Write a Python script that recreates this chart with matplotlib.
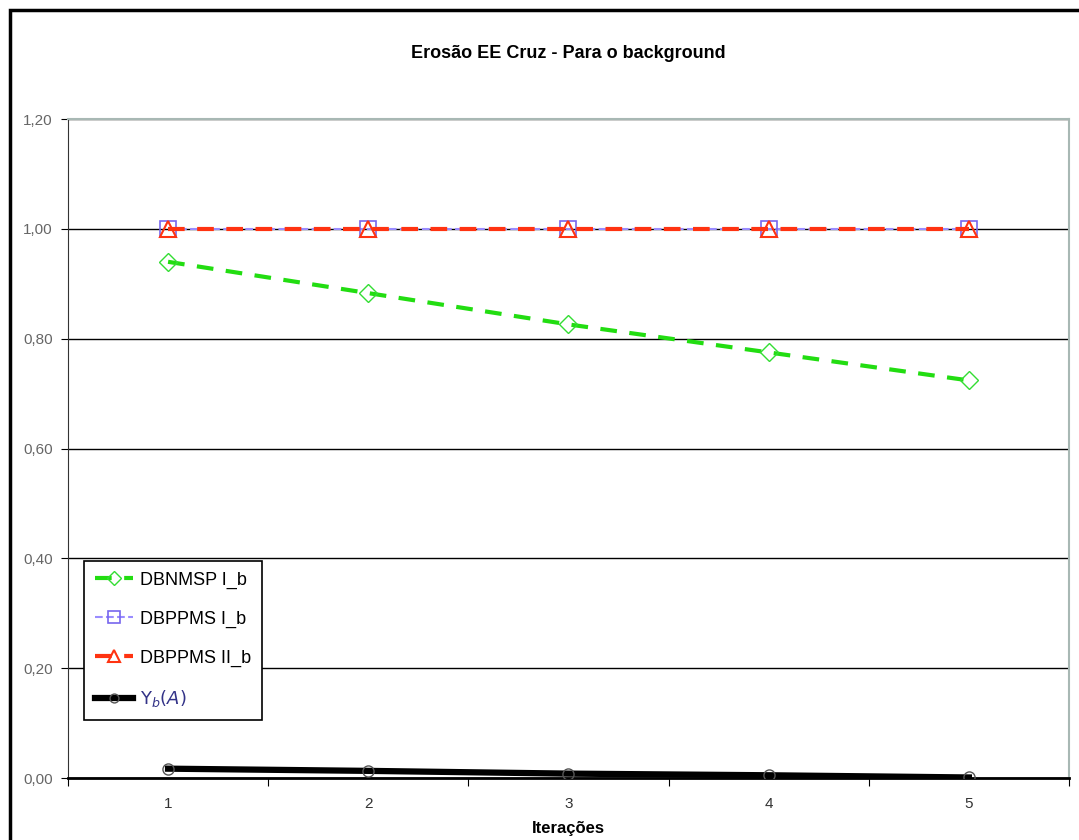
import matplotlib
matplotlib.use('Agg')
import matplotlib.pyplot as plt
from matplotlib.patches import Rectangle

iteracoes = [1, 2, 3, 4, 5]
x_ticks = [0.5, 1.5, 2.5, 3.5, 4.5, 5.5]
y_ticks = [0.0, 0.2, 0.4, 0.6, 0.8, 1.0, 1.2]
y_labels = ['0,00', '0,20', '0,40', '0,60', '0,80', '1,00', '1,20']

dbnmsp_i = [0.940, 0.883, 0.826, 0.775, 0.724]
dbppms_i = [1.0, 1.0, 1.0, 1.0, 1.0]
dbppms_ii = [1.0, 1.0, 1.0, 1.0, 1.0]
upsilon = [0.017, 0.013, 0.008, 0.005, 0.001]

narrow = ['Liberation Sans Narrow', 'Liberation Sans', 'DejaVu Sans']


def main():
    fig = plt.figure(figsize=(10.79, 8.4), dpi=100)
    ax = fig.add_axes([0.063, 0.0738, 0.9277, 0.7845])

    # outer chart frame (only left and top show in the picture)
    fig.add_artist(Rectangle((10 / 1079, -0.1), 1.2, 1 - 10 / 840 + 0.1,
                             transform=fig.transFigure, fill=False,
                             edgecolor='black', linewidth=2.5))

    ax.plot(iteracoes, upsilon, '-', color='black', lw=4.5, marker='o',
            ms=8, mfc='none', mec='#555555', mew=1, label=r'$\Upsilon_b(A)$', zorder=3)
    ax.plot(iteracoes, dbnmsp_i, '--', color='#22dd11', lw=3, dashes=(4, 3),
            marker='D', ms=9, mfc='none', mec='#33dd33', mew=1, label='DBNMSP I_b', zorder=4)
    ax.plot(iteracoes, dbppms_i, '--', color='#9a8cff', lw=1.5,
            marker='s', ms=11, mfc='none', mec='#7766ee', mew=1.2, label='DBPPMS I_b', zorder=4)
    ax.plot(iteracoes, dbppms_ii, '--', color='#ff3311', lw=3, dashes=(4, 3),
            marker='^', ms=11, mfc='none', mec='#ff3311', mew=1.5, label='DBPPMS II_b', zorder=5)

    ax.set_xlim(0.5, 5.5)
    ax.set_ylim(0, 1.2)
    ax.set_xticks(x_ticks)
    ax.set_xticklabels([])
    ax.set_xticks(iteracoes, minor=True)
    ax.set_xticklabels([str(i) for i in iteracoes], minor=True, family=narrow,
                       fontsize=11, color='#333333')
    ax.tick_params(axis='x', which='minor', length=0, pad=14)
    ax.tick_params(axis='x', which='major', length=6, direction='out', color='black')
    ax.set_yticks(y_ticks)
    ax.set_yticklabels(y_labels, family=narrow, fontsize=11, color='#666666')
    ax.tick_params(axis='y', length=5, direction='out', pad=6)

    ax.yaxis.grid(True, color='black', lw=1)
    ax.set_axisbelow(True)
    ax.spines['top'].set_color('#a8b8b4')
    ax.spines['right'].set_color('#a8b8b4')
    ax.spines['top'].set_linewidth(1.5)
    ax.spines['right'].set_linewidth(1.5)
    ax.spines['left'].set_color('#333333')
    ax.spines['bottom'].set_linewidth(2)

    ax.set_title('Erosão EE Cruz - Para o background', family=narrow,
                 fontsize=13, fontweight='bold', pad=44)
    ax.set_xlabel('Iterações', family=narrow, fontsize=12, fontweight='bold', labelpad=7)

    handles, labels = ax.get_legend_handles_labels()
    order = [1, 2, 3, 0]
    leg = ax.legend([handles[i] for i in order], [labels[i] for i in order],
                    loc='lower left', bbox_to_anchor=(0.016, 0.088),
                    borderaxespad=0, fancybox=False, edgecolor='black',
                    framealpha=1, prop={'family': narrow, 'size': 13},
                    handlelength=2.1, handletextpad=0.4, markerscale=0.8,
                    labelspacing=1.2, borderpad=0.6)
    leg.get_frame().set_linewidth(1.2)
    leg.get_texts()[3].set_color('#333388')

    fig.savefig('out.png', dpi=100)


if __name__ == '__main__':
    main()
